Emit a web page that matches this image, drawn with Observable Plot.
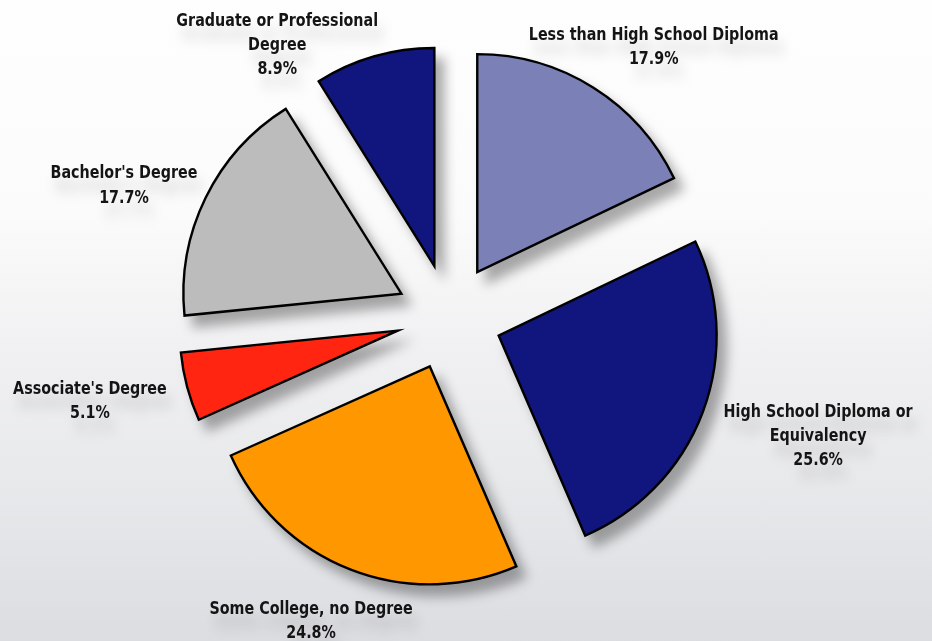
<!DOCTYPE html>
<html><head><meta charset="utf-8">
<script src="https://cdn.jsdelivr.net/npm/d3@7"></script>
<script src="https://cdn.jsdelivr.net/npm/@observablehq/plot@0.6"></script>
<style>
html,body{margin:0;padding:0;width:932px;height:641px;overflow:hidden;}
body{background:linear-gradient(to bottom,#fefefe 0%,#fbfbfb 33%,#f0f0f2 55%,#e8e9eb 75%,#dcdde1 100%);}
#chart svg{display:block;background:transparent;}
</style></head><body><div id="chart"></div>
<script>
// ---- data ----
const categories = ["Less than High School Diploma","High School Diploma or Equivalency","Some College, no Degree","Associate's Degree","Bachelor's Degree","Graduate or Professional Degree"];
const shares = [17.9, 25.6, 24.8, 5.1, 17.7, 8.9];
const sliceColors = ["#7b80b6","#10167e","#ff9800","#ff2510","#bcbcbc","#10167e"];

// ---- layout ----
const W = 932, H = 641, CX = 449, CY = 317, R = 218, EXPLODE = 53, LABEL_R = 338;
const lineBreaks = {"High School Diploma or Equivalency": "High School Diploma or", "Graduate or Professional Degree": "Graduate or Professional"};
const labelNudge = {"Less than High School Diploma":[24,13],"High School Diploma or Equivalency":[52,-3],"Some College, no Degree":[-16,-14],"Associate's Degree":[-33,-6],"Bachelor's Degree":[-22,14],"Graduate or Professional Degree":[-79,50]};

const rows = categories.map((c,i)=>({category:c, share:shares[i], color:sliceColors[i]}));
const arcs = d3.pie().sort(null).value(d=>d.share)(rows);

const labels = arcs.map(a=>{
  const mid = (a.startAngle + a.endAngle)/2;
  const key = a.data.category;
  const nd = labelNudge[key] || [0,0];
  let name = key;
  if (lineBreaks[key]) name = lineBreaks[key] + "\n" + key.slice(lineBreaks[key].length + 1);
  return {x: LABEL_R*Math.sin(mid) + nd[0], y: -LABEL_R*Math.cos(mid) + nd[1], text: name + "\n" + a.data.share.toFixed(1) + "%"};
});

function pieMark(index, scales) {
  const g = d3.create("svg:g").attr("class","slices")
    .style("filter","drop-shadow(9px 11px 6px rgba(0,0,0,0.33))");
  const cx = scales.x(0), cy = scales.y(0);
  const rad = scales.x(R) - scales.x(0);
  const ex = scales.x(EXPLODE) - scales.x(0);
  const arcGen = d3.arc().innerRadius(0).outerRadius(rad);
  for (const a of arcs) {
    const mid = (a.startAngle + a.endAngle)/2;
    g.append("path")
      .attr("transform", `translate(${cx + ex*Math.sin(mid)},${cy - ex*Math.cos(mid)})`)
      .attr("d", arcGen(a))
      .attr("fill", a.data.color)
      .attr("stroke", "#000")
      .attr("stroke-width", 2.4)
      .attr("stroke-linejoin", "miter")
      .attr("stroke-miterlimit", 10);
  }
  return g.node();
}

const chart = Plot.plot({
  width: W, height: H, margin: 0,
  x: {domain:[-CX, W-CX], range:[0, W], axis:null},
  y: {domain:[-CY, H-CY], range:[0, H], axis:null},
  style: {background:"transparent", overflow:"visible"},
  marks: [
    pieMark,
    Plot.text(labels, {x:"x", y:"y", text:"text", fontSize:18.5, fontWeight:"bold",
      fontFamily:"'DejaVu Sans Condensed','DejaVu Sans',sans-serif",
      fill:"#141414", lineHeight:1.3})
  ]
});
document.getElementById("chart").appendChild(chart);
d3.select(chart).selectAll("text").each(function(){
  const t = this.getAttribute("transform") || "";
  const b = this.getBBox();
  const c = b.x + b.width/2;
  this.setAttribute("transform", `${t} translate(${c},0) scale(0.86,1) translate(${-c},0)`);
  this.style.filter = "drop-shadow(6px 13px 7px rgba(0,0,0,0.16))";
});
</script></body></html>
